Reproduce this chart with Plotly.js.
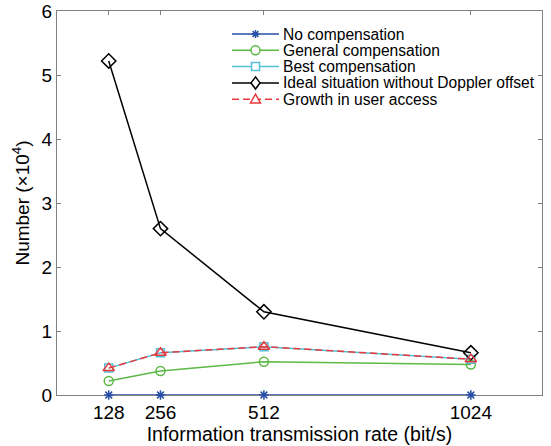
<!DOCTYPE html>
<html>
<head>
<meta charset="utf-8">
<script src="https://cdn.plot.ly/plotly-3.0.1.min.js"></script>
<style>html,body{margin:0;padding:0;background:#fff;}#chart{width:551px;height:446px;}</style>
</head>
<body>
<div id="chart"></div>
<script>
var rates = [128, 256, 512, 1024];
var tickLabels = ['128', '256', '512', '1024'];
var noComp = [0, 0, 0, 0];
var generalComp = [0.22, 0.375, 0.52, 0.475];
var bestComp = [0.42, 0.66, 0.755, 0.56];
var idealNoDoppler = [5.22, 2.6, 1.3, 0.66];
var growthAccess = [0.42, 0.66, 0.755, 0.56];
var seriesNames = ['No compensation', 'General compensation', 'Best compensation',
                   'Ideal situation without Doppler offset', 'Growth in user access'];

var colors = ['#2a4fa6', '#5cb946', '#55bfd6', '#000000', '#e8383d'];
var symbols = ['asterisk-open', 'circle-open', 'square-open', 'diamond-open', 'triangle-up-open'];
var sizes = [8, 9, 8, 11, 10];
var dashes = ['solid', 'solid', 'solid', 'solid', '7px,4px'];
var ys = [noComp, generalComp, bestComp, idealNoDoppler, growthAccess];

var traces = ys.map(function (y, i) {
  return {
    x: rates, y: y, name: seriesNames[i], mode: 'lines+markers', cliponaxis: false,
    line: {color: colors[i], width: 1.5, dash: dashes[i]},
    marker: {symbol: symbols[i], size: sizes[i], color: colors[i], line: {color: colors[i], width: 1.5}}
  };
});

// manual legend (compact spacing like the reference)
var L = 57, R = 542, T = 11, B = 395;
function px2x(p) { return (p - L) / (R - L); }
function py2y(p) { return (B - p) / (B - T); }
var rowY = [34, 50.3, 66.6, 82.9, 99.2];
var markerPaths = [
  'M-4,0H4M0,-4V4M-2.9,-2.9L2.9,2.9M-2.9,2.9L2.9,-2.9',
  null, null,
  'M0,6L4.5,0L0,-6L-4.5,0Z',
  'M0,5L5,-3.8L-5,-3.8Z'
];
var shapes = [], annotations = [];
seriesNames.forEach(function (nm, i) {
  var yy = py2y(rowY[i]);
  shapes.push({type: 'line', xref: 'paper', yref: 'paper', x0: px2x(232), x1: px2x(279), y0: yy, y1: yy,
               line: {color: colors[i], width: 1.5, dash: dashes[i]}});
  var base = {xref: 'paper', yref: 'paper', xsizemode: 'pixel', ysizemode: 'pixel',
              xanchor: px2x(255.5), yanchor: yy, line: {color: colors[i], width: 1.5}, fillcolor: 'rgba(255,255,255,1)'};
  if (i === 1) {
    shapes.push(Object.assign({type: 'circle', x0: -4.5, x1: 4.5, y0: -4.5, y1: 4.5}, base));
  } else if (i === 2) {
    shapes.push(Object.assign({type: 'rect', x0: -4, x1: 4, y0: -4, y1: 4}, base));
  } else {
    var b = Object.assign({type: 'path', path: markerPaths[i]}, base);
    if (i === 0) b.fillcolor = 'rgba(0,0,0,0)';
    shapes.push(b);
  }
  annotations.push({xref: 'paper', yref: 'paper', x: px2x(281), y: yy, xanchor: 'left', yanchor: 'middle',
                    text: nm, showarrow: false, font: {size: 15.6, color: '#000'}});
});

var axisCommon = {
  showgrid: false, zeroline: false, showline: true, linecolor: '#808080', linewidth: 1,
  mirror: 'ticks', ticks: 'inside', ticklen: 4, tickcolor: '#808080', layer: 'below traces',
  tickfont: {family: 'Liberation Sans, Arial, sans-serif', size: 19, color: '#000'}
};

var layout = {
  width: 551, height: 446,
  margin: {l: L, r: 551 - R, t: T, b: 446 - B},
  paper_bgcolor: '#fff', plot_bgcolor: '#fff',
  font: {family: 'Liberation Sans, Arial, sans-serif', color: '#000'},
  xaxis: Object.assign({}, axisCommon, {
    range: [0, 1200], tickvals: rates, ticktext: tickLabels,
    title: {text: 'Information transmission rate (bit/s)', font: {size: 19.5}, standoff: 2}
  }),
  yaxis: Object.assign({}, axisCommon, {
    range: [0, 6], dtick: 1, tick0: 0,
    title: {text: 'Number (×10<sup>4</sup>)', font: {size: 19}, standoff: 6}
  }),
  showlegend: false,
  shapes: shapes,
  annotations: annotations
};

Plotly.newPlot('chart', traces, layout, {displayModeBar: false, staticPlot: true});
</script>
</body>
</html>
